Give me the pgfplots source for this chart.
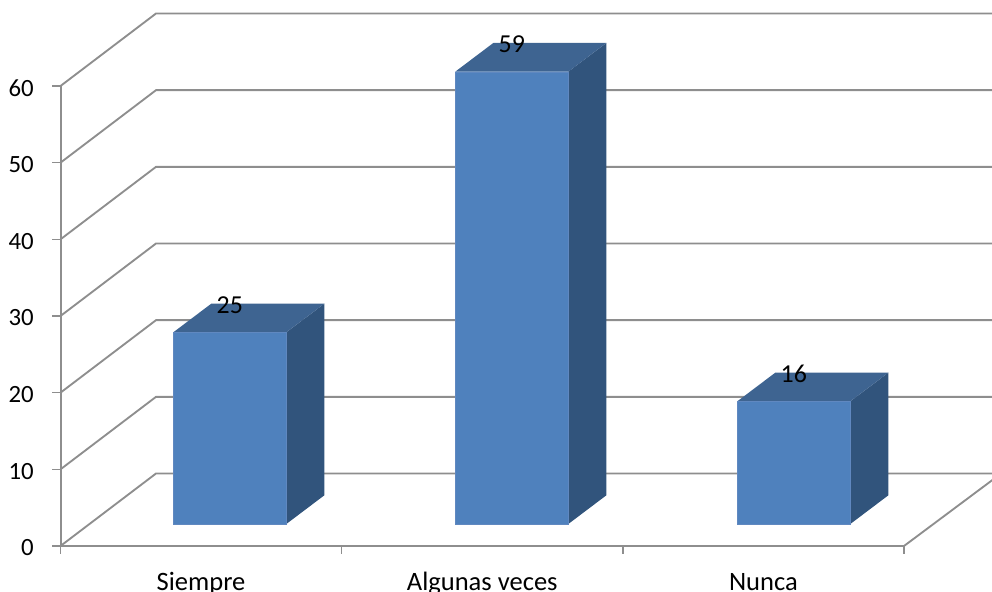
\documentclass[border=0pt]{standalone}
\usepackage{fontspec}
\setmainfont{Carlito}
\usepackage{pgfplots}
\pgfplotsset{compat=1.18}
\definecolor{gridgrey}{HTML}{8E8E8E}
\definecolor{barfront}{HTML}{4F81BD}
\definecolor{bartop}{HTML}{3E6491}
\definecolor{barside}{HTML}{31547C}
\definecolor{baredge}{HTML}{6088C0}
% lengths below are given in picture pixels of 0.75pt
\newlength{\px}\setlength{\px}{0.75pt}
\newcommand{\tickfont}{\fontsize{18.6}{20}\selectfont}
\newcommand{\valuefont}{\fontsize{19.4}{21}\selectfont}
\newcommand{\catfont}{\fontsize{19.9}{22}\selectfont}
\begin{document}
\begin{tikzpicture}[x=\px,y=\px]
\path[use as bounding box,clip] (0,0) rectangle (992,592);

% Walls, floor, value axis and category labels
\begin{axis}[
  at={(60.5\px,46\px)},anchor=south west,
  scale only axis,width=843.5\px,height=460\px,
  xmin=0,xmax=3,ymin=0,ymax=60,
  clip=false,
  axis x line*=bottom,axis y line*=left,
  axis line style={gridgrey,line width=1.4pt,-},
  tick style={gridgrey,line width=1.1pt},
  xtick={0,1,2,3},xticklabels={},
  major tick length=8\px,
  tick align=outside,
  ytick={0,10,...,60},
  /pgf/number format/assume math mode=true,
  yticklabel style={font=\tickfont,text=black,xshift=-14\px,yshift=-2\px,anchor=east},
]
% vertical edge of the value axis
\addplot[gridgrey,line width=1.5pt,forget plot] coordinates {(0,0) (0,60)};
% depth lines along the left wall and the floor
\foreach \v in {0,10,20,30,40,50,60}{
  \edef\temp{\noexpand\addplot[gridgrey,line width=1.4pt,forget plot] coordinates {(0,\v) (0.3397,\v+9.456) (3.32,\v+9.456)};}
  \temp
}
\addplot[gridgrey,line width=1.4pt,forget plot] coordinates {(3,0) (3.32,8.76)};
% category names under the floor
\node[font=\catfont,anchor=base] at (axis cs:0.5,0) [yshift=-44.5\px] {Siempre};
\node[font=\catfont,anchor=base] at (axis cs:1.5,0) [yshift=-44.5\px] {Algunas veces};
\node[font=\catfont,anchor=base] at (axis cs:2.5,0) [yshift=-44.5\px] {Nunca};
\end{axis}

% Columns: front faces are the bars, top and side faces share their values
\begin{axis}[
  at={(88.8\px,68\px)},anchor=south west,
  scale only axis,width=846\px,height=460\px,
  xmin=-0.5,xmax=2.5,ymin=0,ymax=60,
  clip=false,axis lines=none,
]
% side faces
\addplot[draw=none,fill=barside,forget plot] coordinates {(0.2004,0) (0.3352,3.74) (0.3352,28.74) (0.2004,25)} --cycle;
\addplot[draw=none,fill=barside,forget plot] coordinates {(1.2004,0) (1.3352,3.74) (1.3352,62.74) (1.2004,59)} --cycle;
\addplot[draw=none,fill=barside,forget plot] coordinates {(2.2004,0) (2.3352,3.74) (2.3352,19.74) (2.2004,16)} --cycle;
% top faces
\addplot[draw=none,fill=bartop,forget plot] coordinates {(-0.2004,25) (0.2004,25) (0.3352,28.74) (-0.0656,28.74)} --cycle;
\addplot[draw=none,fill=bartop,forget plot] coordinates {(0.7996,59) (1.2004,59) (1.3352,62.74) (0.9344,62.74)} --cycle;
\addplot[draw=none,fill=bartop,forget plot] coordinates {(1.7996,16) (2.2004,16) (2.3352,19.74) (1.9344,19.74)} --cycle;
% front faces with their value labels
\addplot[ybar,bar width=113\px,bar shift=0pt,draw=baredge,line width=0.2pt,fill=barfront,
  nodes near coords,
  every node near coord/.append style={font=\valuefont,text=black,yshift=14\px,/pgf/number format/assume math mode=true},
] coordinates {(0,25) (1,59) (2,16)};
\end{axis}
\end{tikzpicture}
\end{document}
